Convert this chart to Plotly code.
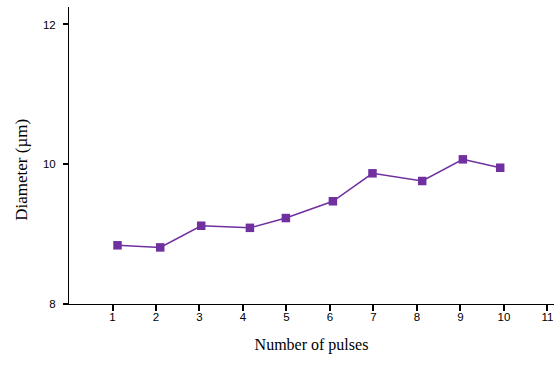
import plotly.graph_objects as go

pulses = [1.115, 2.097, 3.039, 4.159, 4.986, 6.067, 6.977, 8.120, 9.055, 9.913]
diameter = [8.84, 8.81, 9.12, 9.09, 9.23, 9.47, 9.87, 9.76, 10.07, 9.95]
x_ticks = list(range(1, 12))
y_ticks = [8, 10, 12]

fig = go.Figure()
fig.add_trace(go.Scatter(
    x=pulses, y=diameter, mode="lines+markers",
    line=dict(color="#7030A0", width=1.5),
    marker=dict(symbol="square", size=8.5, color="#7030A0"),
    showlegend=False, cliponaxis=False,
))

fig.update_layout(
    width=554, height=365,
    margin=dict(l=69, r=0, t=7, b=61),
    plot_bgcolor="white", paper_bgcolor="white",
    xaxis=dict(
        range=[0, 11.15], tickvals=x_ticks, ticktext=[str(v) for v in x_ticks],
        showgrid=False, zeroline=False, showline=True, linecolor="black", linewidth=1,
        ticks="outside", ticklen=6, tickwidth=1.5, tickcolor="black",
        ticklabelstandoff=-4,
        tickfont=dict(family="Liberation Sans", size=11.5, color="black"),
        title=dict(text="Number of pulses", standoff=17,
                   font=dict(family="Liberation Serif", size=16, color="black")),
    ),
    yaxis=dict(
        range=[8, 12.25], tickvals=y_ticks, ticktext=[str(v) for v in y_ticks],
        showgrid=False, zeroline=False, showline=True, linecolor="black", linewidth=1,
        ticks="outside", ticklen=5, tickwidth=1.5, tickcolor="black",
        ticklabelstandoff=5,
        tickfont=dict(family="Liberation Sans", size=11.5, color="black"),
    ),
    annotations=[dict(
        text="Diameter (µm)", textangle=-90, showarrow=False,
        xref="paper", yref="paper", x=-0.0996, y=0.451,
        xanchor="center", yanchor="middle",
        font=dict(family="Liberation Serif", size=17, color="black"),
    )],
)

fig.write_html("out.html")
